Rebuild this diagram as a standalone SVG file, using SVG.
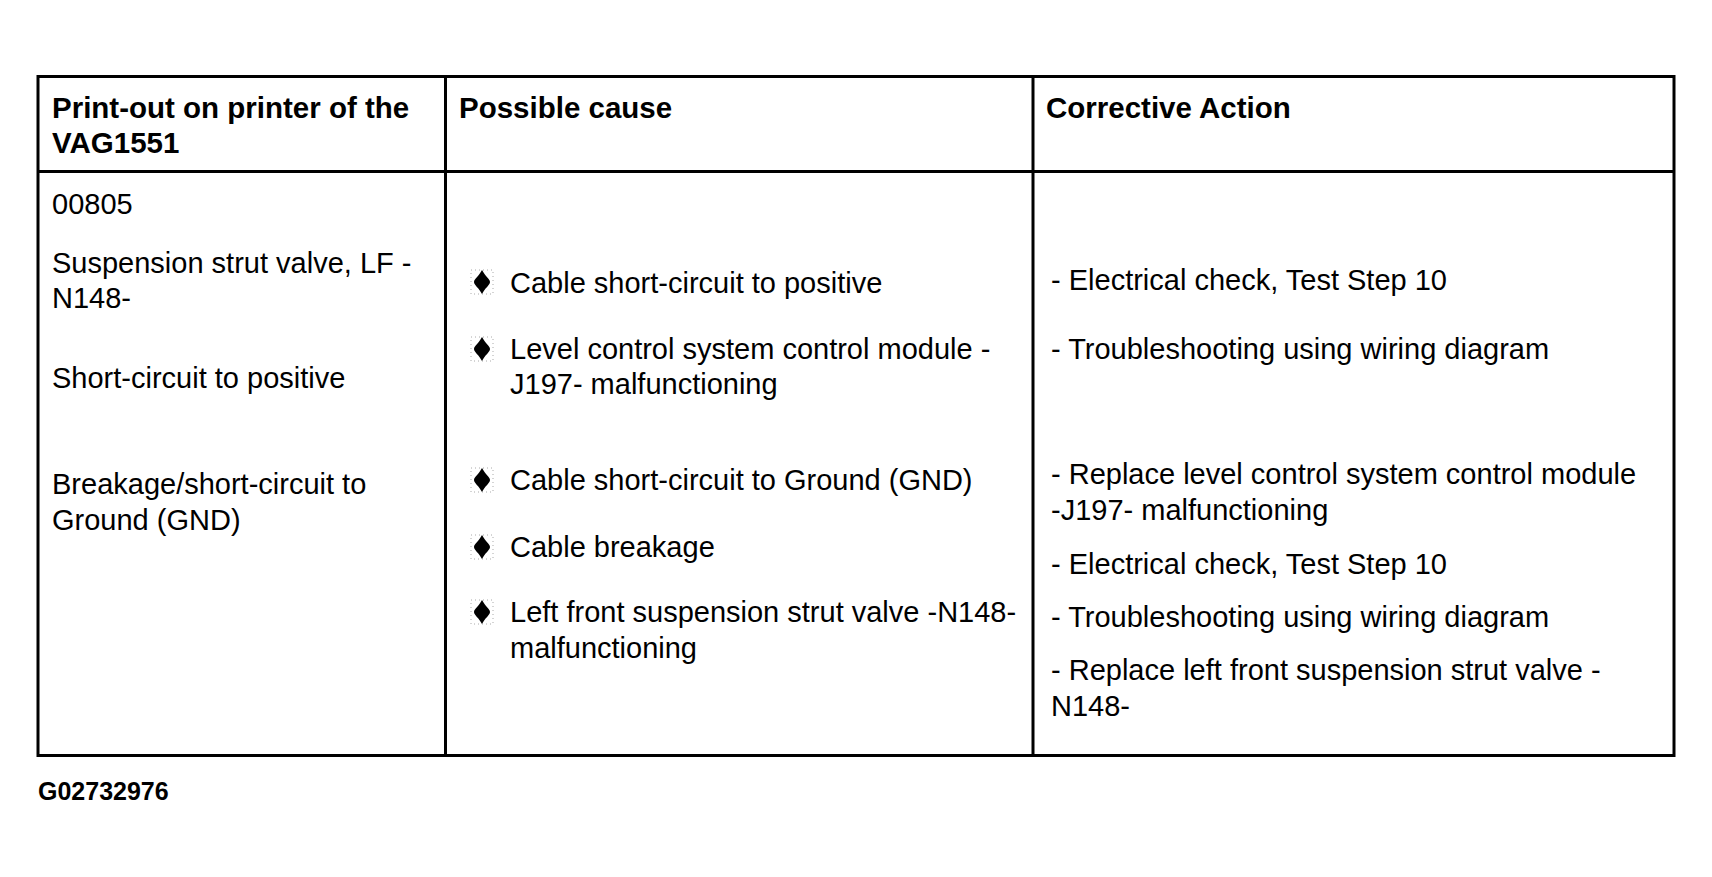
<svg xmlns="http://www.w3.org/2000/svg" width="1712" height="877" viewBox="0 0 1712 877">
<style>
text{font-family:"Liberation Sans",Arial,sans-serif;font-size:29px;fill:#000}
.h{font-weight:bold;font-size:29.5px}
.code{font-weight:bold;font-size:25px}
.grid line,.grid rect{stroke:#000;stroke-width:3;fill:none}
.bl{fill:#000}
.halo{fill:none;stroke:#aaa;stroke-width:1;stroke-dasharray:1 3}
</style>
<defs>
<g id="bullet">
<rect class="halo" x="-11" y="-12" width="22" height="24"/>
<path class="bl" d="M0,-12 C3,-6 8,-3 8,0 C8,3 3,6 0,12 C-3,6 -8,3 -8,0 C-8,-3 -3,-6 0,-12Z"/>
</g>
</defs>
<rect width="1712" height="877" fill="#fff"/>
<g id="grid" class="grid">
<rect x="38" y="76.5" width="1636" height="679"/>
<line x1="38" y1="171.5" x2="1674" y2="171.5"/>
<line x1="445.5" y1="76.5" x2="445.5" y2="755.5"/>
<line x1="1033" y1="76.5" x2="1033" y2="755.5"/>
</g>
<g id="head-printout">
<text class="h" x="52" y="118">Print-out on printer of the</text>
<text class="h" x="52" y="153">VAG1551</text>
</g>
<g id="head-cause"><text class="h" x="459" y="118">Possible cause</text></g>
<g id="head-action"><text class="h" x="1046" y="118">Corrective Action</text></g>
<g id="cell-printout">
<text x="52" y="214">00805</text>
<text x="52" y="273">Suspension strut valve, LF -</text>
<text x="52" y="308">N148-</text>
<text x="52" y="388">Short-circuit to positive</text>
<text x="52" y="494">Breakage/short-circuit to</text>
<text x="52" y="530">Ground (GND)</text>
</g>
<g id="cell-cause">
<use href="#bullet" x="482" y="282"/>
<text x="510" y="293">Cable short-circuit to positive</text>
<use href="#bullet" x="482" y="349"/>
<text x="510" y="359">Level control system control module -</text>
<text x="510" y="394">J197- malfunctioning</text>
<use href="#bullet" x="482" y="480"/>
<text x="510" y="490">Cable short-circuit to Ground (GND)</text>
<use href="#bullet" x="482" y="547"/>
<text x="510" y="557">Cable breakage</text>
<use href="#bullet" x="482" y="612"/>
<text x="510" y="622">Left front suspension strut valve -N148-</text>
<text x="510" y="658">malfunctioning</text>
</g>
<g id="cell-action">
<text x="1051" y="290">- Electrical check, Test Step 10</text>
<text x="1051" y="359">- Troubleshooting using wiring diagram</text>
<text x="1051" y="484">- Replace level control system control module</text>
<text x="1051" y="520">-J197- malfunctioning</text>
<text x="1051" y="574">- Electrical check, Test Step 10</text>
<text x="1051" y="627">- Troubleshooting using wiring diagram</text>
<text x="1051" y="680">- Replace left front suspension strut valve -</text>
<text x="1051" y="716">N148-</text>
</g>
<g id="figure-code"><text class="code" x="38" y="800">G02732976</text></g>
</svg>
